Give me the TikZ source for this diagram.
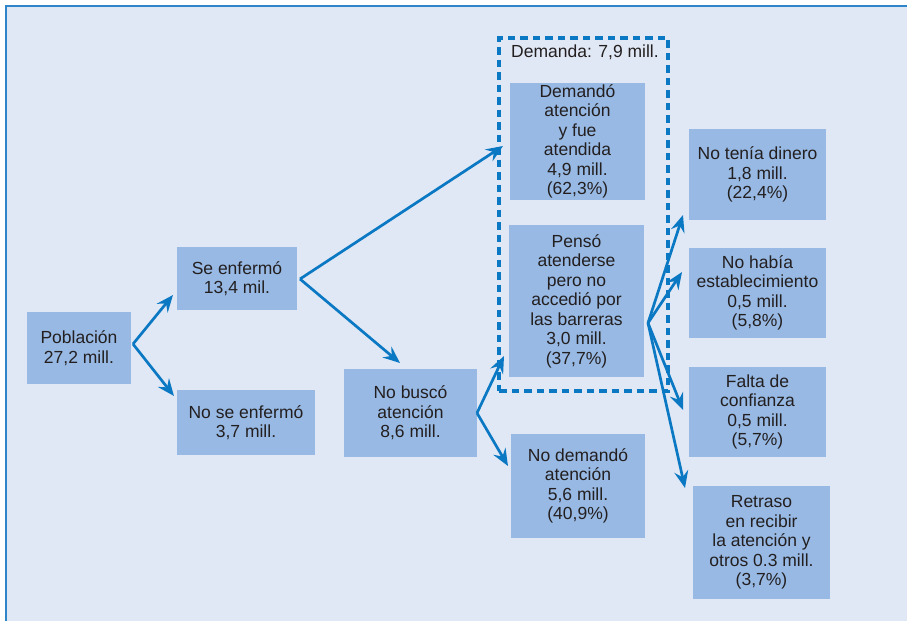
\documentclass[tikz,border=0pt]{standalone}
\usepackage{fontspec}
\setmainfont{Liberation Sans}
\usetikzlibrary{arrows.meta}
\definecolor{bgc}{HTML}{E1E8F5}
\definecolor{boxc}{HTML}{97B9E3}
\definecolor{arrc}{HTML}{0A78C2}
\definecolor{framec}{HTML}{2E86C8}
\definecolor{txtc}{HTML}{231F20}
\tikzset{
  box/.style={fill=boxc, inner sep=0pt, align=center, text=txtc,
    font=\fontsize{17.5}{19.5}\selectfont},
  arr/.style={draw=arrc, line width=2.7pt,
    -{Stealth[length=17pt,width=14pt,inset=6pt]}},
  dbox/.style={draw=arrc, line width=3.3pt, dash pattern=on 7.5pt off 5pt, inner sep=0pt},
}
\begin{document}
\begin{tikzpicture}[x=1pt,y=-1pt]
\useasboundingbox (0,0) rectangle (907,621);
\fill[white] (0,0) rectangle (907,621);
\fill[bgc] (5,5) rectangle (907,621);
\draw[framec, line width=1.8pt] (5.8,621) -- (5.8,5.8) -- (907,5.8);

\node[dbox, minimum width=169pt, minimum height=353pt] (dbx) at (583.5,214.5) {};
\node[text=txtc, font=\fontsize{17.5}{19.5}\selectfont] (dlab) at (585,52) {Demanda: 7,9 mill.};

\node[box, minimum width=104pt, minimum height=72pt] (pob) at (79,348) {Población\\27,2 mill.};
\node[box, minimum width=120pt, minimum height=63pt] (se) at (237,278.5) {Se enfermó\\13,4 mil.};
\node[box, minimum width=138pt, minimum height=65pt] (nose) at (246,422.5) {No se enfermó\\3,7 mill.};
\node[box, minimum width=133pt, minimum height=88pt] (nob) at (410.5,413) {No buscó\\atención\\8,6 mill.};
\node[box, minimum width=135pt, minimum height=117pt] (dem) at (577.5,141.5) {Demandó\\atención\\y fue\\atendida\\4,9 mill.\\(62,3\%)};
\node[box, minimum width=135pt, minimum height=152pt] (pen) at (576.5,301) {Pensó\\atenderse\\pero no\\accedió por\\las barreras\\3,0 mill.\\(37,7\%)};
\node[box, minimum width=134pt, minimum height=104pt] (nodem) at (578,486) {No demandó\\atención\\5,6 mill.\\(40,9\%)};
\node[box, minimum width=137pt, minimum height=91pt] (din) at (757.5,174.5) {No tenía dinero\\1,8 mill.\\(22,4\%)};
\node[box, minimum width=137pt, minimum height=90pt] (est) at (757.5,293) {No había\\establecimiento\\0,5 mill.\\(5,8\%)};
\node[box, minimum width=137pt, minimum height=90pt] (conf) at (757.5,412) {Falta de\\confianza\\0,5 mill.\\(5,7\%)};
\node[box, minimum width=137pt, minimum height=113pt] (ret) at (761.5,542.5) {Retraso\\en recibir\\la atención y\\otros 0.3 mill.\\(3,7\%)};

% branch points and arrow tips
\coordinate (b1) at (133,344);
\coordinate (t1a) at (173,295);
\coordinate (t1b) at (174,396);
\coordinate (b2) at (300,279);
\coordinate (t2a) at (503,146);
\coordinate (t2b) at (400,363);
\coordinate (b3) at (477,413);
\coordinate (t3a) at (504,356);
\coordinate (t3b) at (508,466);
\coordinate (b4) at (648,323);
\coordinate (t4a) at (683,215);
\coordinate (t4b) at (682,272);
\coordinate (t4c) at (683,410);
\coordinate (t4d) at (685,488);

\draw[arr] (b1) -- (t1a);
\draw[arr] (b1) -- (t1b);
\draw[arr] (b2) -- (t2a);
\draw[arr] (b2) -- (t2b);
\draw[arr] (b3) -- (t3a);
\draw[arr] (b3) -- (t3b);
\draw[arr] (b4) -- (t4a);
\draw[arr] (b4) -- (t4b);
\draw[arr] (b4) -- (t4c);
\draw[arr] (b4) -- (t4d);
\end{tikzpicture}
\end{document}
